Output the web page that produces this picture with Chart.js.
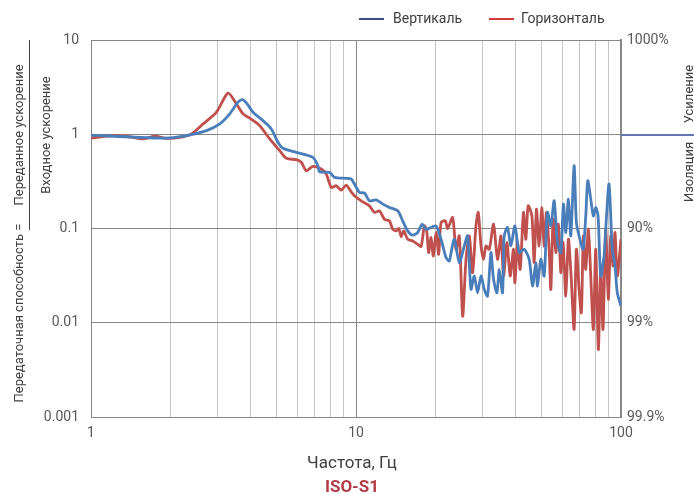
<!DOCTYPE html>
<html>
<head>
<meta charset="utf-8">
<script src="https://cdn.jsdelivr.net/npm/chart.js@4"></script>
<style>
  body { margin: 0; background: #fff; font-family: Roboto, sans-serif; }
  #wrap { position: relative; width: 694px; height: 494px; }
  .t { position: absolute; color: #404040; white-space: nowrap; }
  .rot { transform: translate(-50%, -50%) rotate(-90deg); font-size: 13px; }
  .ctr { transform: translate(-50%, -50%); }
</style>
</head>
<body>
<div id="wrap">
  <canvas id="chart" width="694" height="494"></canvas>

  <!-- legend -->
  <div style="position:absolute;left:359px;top:18px;width:25px;height:2px;background:#3d4d85"></div>
  <div class="t" style="left:393px;top:10px;font-size:14px">Вертикаль</div>
  <div style="position:absolute;left:489px;top:18px;width:25px;height:2px;background:#d33b3b"></div>
  <div class="t" style="left:521px;top:10px;font-size:14px">Горизонталь</div>

  <!-- left title -->
  <div class="t rot" style="left:18px;top:135px">Переданное ускорение</div>
  <div style="position:absolute;left:29px;top:40px;width:1px;height:190px;background:#404040"></div>
  <div class="t rot" style="left:45px;top:135px">Входное ускорение</div>
  <div class="t rot" style="left:18px;top:313px">Передаточная способность =</div>

  <!-- right annotation -->
  <div style="position:absolute;left:621px;top:134px;width:73px;height:2px;background:#6576b4"></div>
  <div class="t rot" style="left:688px;top:94px">Усиление</div>
  <div class="t rot" style="left:688px;top:172px">Изоляция</div>

  <!-- bottom titles -->
  <div class="t ctr" style="left:352px;top:462px;font-size:17px">Частота, Гц</div>
  <div class="t ctr" style="left:352px;top:486px;font-size:17px;font-weight:bold;color:#b33a47">ISO-S1</div>
</div>
<script>
// tick values
const xTicks = [1,2,3,4,5,6,7,8,9,10,20,30,40,50,60,70,80,90,100];
const yTicks = [0.001, 0.01, 0.1, 1, 10];
const rightLabels = ["99.9%", "99%", "90%", "", "1000%"];

// Вертикаль
const freqV = [1,1.213,1.621,1.984,2.36,2.728,3.062,3.338,3.588,3.727,3.858,4.087,4.457,4.793,5.076,5.301,5.953,6.876,7.18,7.287,7.947,8.299,9.186,9.592,
  9.87,10.31,10.77,11.24,11.92,12.62,13.37,14.37,15.01,15.67,16.37,17.09,17.76,18.38,19.2,20.05,20.94,21.87,22.5,
  22.84,23.5,24.54,25.63,26.37,27.16,27.95,28.76,29.63,30.48,31.36,32.3,33.04,34.03,34.72,35.72,36.25,37.3,38.42,39.78,41.29,43.12,45.03,
  46.34,47.72,48.39,49.84,51.29,52.78,54.36,55.94,57.57,59.29,60.64,61.91,63.32,64.65,66.53,67.86,69.47,71.92,73.62,74.92,76.89,78.65,80.3,81.92,83.85,86.3,88.03,90.12,92.73,94.93,96.83,100];
const valV = [0.98,0.952,0.92,0.913,0.983,1.092,1.287,1.644,2.19,2.334,2.153,1.714,1.395,1.139,0.822,0.71,0.643,0.569,0.463,0.4,0.394,0.349,0.34,0.335,
  0.296,0.2415,0.2374,0.1966,0.2015,0.1814,0.1673,0.1539,0.1204,0.0943,0.0849,0.0907,0.111,0.0983,0.1025,0.1066,0.0769,0.0491,0.0452,
  0.0555,0.0769,0.0435,0.0653,0.0834,0.0226,0.0313,0.0208,0.0313,0.0226,0.0192,0.0555,0.0289,0.0208,0.0369,0.0208,0.0834,0.1025,0.0653,0.1066,0.0555,0.0602,0.0471,
  0.0245,0.0435,0.0245,0.0471,0.0313,0.148,0.1066,0.1966,0.071,0.0555,0.1814,0.0907,0.205,0.0834,0.463,0.1158,0.0834,0.0602,0.136,0.321,0.205,0.136,0.1673,0.136,0.0313,0.0511,0.1256,0.296,0.0602,0.04,0.0208,0.015];

// Горизонталь
const freqH = [1,1.213,1.363,1.574,1.742,1.928,2.164,2.395,2.649,2.975,3.289,3.538,3.746,3.971,4.33,4.724,5.151,5.46,5.953,6.217,6.493,6.876,7.395,7.723,8.065,8.422,8.797,9.186,9.592,
  9.87,10.46,11.24,11.74,12.26,12.8,13.37,13.76,14.17,14.5,14.8,15.14,15.67,16.37,17.09,17.61,18.11,18.48,18.8,19.2,19.58,20.05,20.51,20.94,21.74,22.17,
  23.15,23.85,24.54,25.26,26.01,26.76,27.54,28.36,28.93,29.63,30.29,30.93,31.83,33.04,34.2,35.24,36.04,37.12,38.18,39.29,39.78,40.68,41.65,42.85,43.76,44.63,
  46.1,47.02,47.97,49.1,50.26,51.29,52.32,53.56,54.36,55.45,56.77,58.05,59.29,60.45,61.91,63.32,64.83,66.53,67.86,69.47,70.88,72.11,73.62,75.31,76.89,78.65,80.3,82.13,83.85,85.52,87.57,89.57,91.47,93.32,94.93,96.83,100];
const valH = [0.913,0.966,0.952,0.891,0.952,0.906,0.929,1.007,1.287,1.714,2.731,2.101,1.644,1.48,1.234,0.891,0.669,0.555,0.537,0.504,0.41,0.4566,0.4274,0.378,0.273,0.284,0.2555,0.289,0.245,
  0.2222,0.1966,0.174,0.148,0.1539,0.1256,0.1204,0.0983,0.0943,0.1,0.0822,0.0943,0.0769,0.0738,0.0681,0.0643,0.1066,0.0943,0.0555,0.0802,0.0511,0.0907,0.0533,0.1158,0.1204,0.1,
  0.131,0.0602,0.0834,0.01175,0.0471,0.0834,0.034,0.1066,0.148,0.0653,0.0471,0.0653,0.0602,0.111,0.0471,0.0834,0.0313,0.071,0.0313,0.0602,0.0266,0.071,0.0369,0.148,0.0769,0.174,
  0.136,0.0435,0.1604,0.0653,0.1673,0.0653,0.148,0.0602,0.0226,0.1256,0.0555,0.111,0.034,0.071,0.0192,0.0769,0.0313,0.0085,0.0602,0.0226,0.0128,0.0834,0.0369,0.0983,0.0313,0.0085,0.0602,0.0052,0.04,0.0085,0.0983,0.0177,0.0834,0.04,0.0907,0.0313,0.0769];

const tickFont = { family: "Roboto, sans-serif", size: 14 };
const tickColor = "#595959";

new Chart(document.getElementById("chart").getContext("2d"), {
    type: "line",
    data: {
        datasets: [
            { label: "Вертикаль", data: freqV.map((f, i) => ({ x: f, y: valV[i] })), borderColor: "#4a7ebb", borderWidth: 2.8, pointRadius: 0, tension: 0.25 },
            { label: "Горизонталь", data: freqH.map((f, i) => ({ x: f, y: valH[i] })), borderColor: "#c0504d", borderWidth: 2.8, pointRadius: 0, tension: 0.25 }
        ]
    },
    options: {
        responsive: false,
        animation: false,
        devicePixelRatio: 1,
        layout: { padding: { top: 40 } },
        plugins: { legend: { display: false }, tooltip: { enabled: false } },
        scales: {
            x: {
                type: "logarithmic", min: 1, max: 100,
                afterBuildTicks: s => { s.ticks = xTicks.map(v => ({ value: v })); },
                afterFit: s => { s.height = 77; },
                ticks: {
                    autoSkip: false, maxRotation: 0, padding: 8, font: tickFont, color: tickColor,
                    callback: v => ([1, 10, 100].includes(v) ? String(v) : "")
                },
                grid: {
                    drawTicks: false,
                    color: c => ([1, 10, 100].includes(c.tick.value) ? "#878787" : "#c4c4c4"),
                    lineWidth: 1
                },
                border: { color: "#878787" }
            },
            y: {
                type: "logarithmic", position: "left", min: 0.001, max: 10,
                afterBuildTicks: s => { s.ticks = yTicks.map(v => ({ value: v })); },
                afterFit: s => { s.width = 91; },
                ticks: { padding: 12, font: tickFont, color: tickColor, callback: v => String(v) },
                grid: { drawTicks: false, color: "#878787" },
                border: { color: "#878787" }
            },
            y2: {
                type: "logarithmic", position: "right", min: 0.001, max: 10,
                afterBuildTicks: s => { s.ticks = yTicks.map(v => ({ value: v })); },
                afterFit: s => { s.width = 73; },
                ticks: { padding: 6, font: tickFont, color: tickColor, callback: (v, i) => rightLabels[i] },
                grid: { display: false, drawTicks: false },
                border: { color: "#878787", width: 2 }
            }
        }
    }
});
</script>
</body>
</html>
